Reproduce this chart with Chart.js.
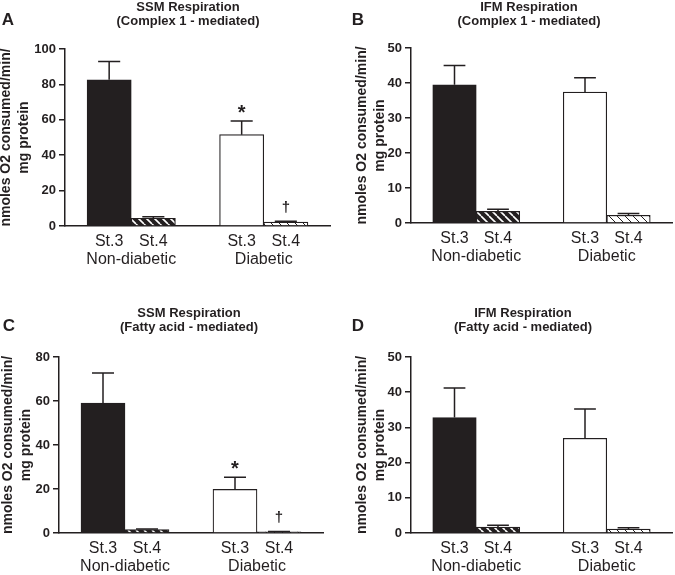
<!DOCTYPE html>
<html>
<head>
<meta charset="utf-8">
<script src="https://cdn.jsdelivr.net/npm/chart.js@4"></script>
<style>
  body { margin: 0; background: #fff; }
  canvas { position: absolute; }
</style>
</head>
<body>
<canvas id="chartA" width="337" height="285" style="left:0;top:0"></canvas>
<canvas id="chartB" width="338" height="285" style="left:337px;top:0"></canvas>
<canvas id="chartC" width="337" height="269" style="left:0;top:306px"></canvas>
<canvas id="chartD" width="338" height="269" style="left:337px;top:306px"></canvas>
<script>
const groups = ['Non-diabetic', 'Diabetic'];
const states = ['St.3', 'St.4'];
const yTitle = ['nmoles O2 consumed/min/', 'mg protein'];

// order: Non-diabetic St.3, St.4, Diabetic St.3, St.4
const ssmComplex1 = [82.6, 4.4, 51.6, 2.2];
const ssmComplex1Err = [10.4, 0.8, 7.7, 0.5];
const ifmComplex1 = [39.5, 3.3, 37.4, 2.2];
const ifmComplex1Err = [5.5, 0.6, 4.1, 0.5];
const ssmFatty = [59.1, 1.5, 19.8, 0.5];
const ssmFattyErr = [13.6, 0.3, 5.5, 0.2];
const ifmFatty = [32.8, 1.7, 26.9, 1.1];
const ifmFattyErr = [8.4, 0.5, 8.3, 0.4];
const sigMarks = ['', '', '*', '†'];
const noMarks = ['', '', '', ''];

const ink = '#231f20';
Chart.defaults.font.family = '"Liberation Sans", Arial, sans-serif';
Chart.defaults.color = ink;

// slot on the x axis: one empty slot between the two groups
const slot = i => Math.floor(i / states.length) * (states.length + 1) + (i % states.length) + 1;
const slotCount = groups.length * (states.length + 1);

function hatch(ctx, bg, fg, lw) {
  const c = document.createElement('canvas');
  c.width = c.height = 8;
  const g = c.getContext('2d');
  g.fillStyle = bg;
  g.fillRect(0, 0, 8, 8);
  g.strokeStyle = fg;
  g.lineWidth = lw;
  g.beginPath();
  for (const o of [-8, 0, 8]) { g.moveTo(o, 0); g.lineTo(o + 8, 8); }
  g.stroke();
  return ctx.createPattern(c, 'repeat');
}

// error bars, significance marks, panel letter and title
const panelDecor = {
  id: 'panelDecor',
  afterDatasetsDraw(chart, args, opts) {
    const ctx = chart.ctx;
    const ds = chart.data.datasets[0];
    const y = chart.scales.y;
    ctx.save();
    ctx.strokeStyle = ink;
    ctx.fillStyle = ink;
    ctx.lineWidth = 1.5;
    chart.getDatasetMeta(0).data.forEach((bar, i) => {
      const top = y.getPixelForValue(ds.data[i].y + ds.errors[i]);
      const half = bar.width / 4;
      ctx.beginPath();
      ctx.moveTo(bar.x, bar.y);
      ctx.lineTo(bar.x, top);
      ctx.moveTo(bar.x - half, top);
      ctx.lineTo(bar.x + half, top);
      ctx.stroke();
      const m = ds.marks[i];
      ctx.textAlign = 'center';
      ctx.textBaseline = 'alphabetic';
      if (m === '*') {
        ctx.font = 'bold 20px "Liberation Sans"';
        ctx.fillText(m, bar.x, top - 2);
      } else if (m) {
        ctx.font = 'bold 15px "Liberation Sans"';
        ctx.fillText(m, bar.x, top - 9);
      }
    });
    ctx.textAlign = 'center';
    ctx.textBaseline = 'middle';
    ctx.font = 'bold 13px "Liberation Sans"';
    ctx.fillText(opts.title[0], opts.titleX, 7);
    ctx.fillText(opts.title[1], opts.titleX, 21);
    ctx.font = 'bold 17px "Liberation Sans"';
    ctx.fillText(opts.letter, opts.letterX, 20);
    ctx.restore();
  }
};

function makeChart(id, cfg) {
  const canvas = document.getElementById(id);
  const ctx = canvas.getContext('2d');
  const fills = [ink, hatch(ctx, ink, '#fff', 1.6), '#fff', hatch(ctx, '#fff', ink, 1)];
  return new Chart(canvas, {
    type: 'bar',
    data: {
      datasets: [{
        data: cfg.values.map((v, i) => ({ x: slot(i), y: v })),
        errors: cfg.errors,
        marks: cfg.marks,
        backgroundColor: fills,
        borderColor: ink,
        borderWidth: 1.2,
        barPercentage: 1,
        categoryPercentage: 1
      }]
    },
    plugins: [panelDecor],
    options: {
      responsive: false,
      animation: false,
      layout: { padding: cfg.padding },
      plugins: {
        legend: { display: false },
        tooltip: { enabled: false },
        panelDecor: { title: cfg.title, titleX: cfg.titleX, letter: cfg.letter, letterX: cfg.letterX }
      },
      scales: {
        x: {
          type: 'linear', min: 0, max: slotCount, offset: false,
          grid: { display: false, drawTicks: false, tickLength: 0 },
          border: { color: ink, width: 1.5 },
          afterBuildTicks: s => { s.ticks = cfg.values.map((v, i) => ({ value: slot(i) })); },
          afterFit: s => { s.height = 22; },
          ticks: {
            autoSkip: false, maxRotation: 0, padding: 6, color: ink, font: { size: 16 },
            callback: v => states[(v - 1) % (states.length + 1)]
          }
        },
        x2: {
          type: 'linear', position: 'bottom', weight: 1, min: 0, max: slotCount, offset: false,
          grid: { display: false, drawTicks: false, tickLength: 0 },
          border: { display: false },
          afterBuildTicks: s => { s.ticks = groups.map((g, i) => ({ value: i * (states.length + 1) + 1.5 })); },
          afterFit: s => { s.height = 20; },
          ticks: {
            autoSkip: false, maxRotation: 0, padding: 2, color: ink, font: { size: 16 },
            callback: v => groups[Math.floor(v / (states.length + 1))]
          }
        },
        y: {
          min: 0, max: cfg.yMax,
          ticks: { stepSize: cfg.yStep, padding: 3, color: ink, font: { size: 13, weight: 'bold' } },
          grid: { drawOnChartArea: false, tickLength: 6, tickColor: ink, lineWidth: 1.5 },
          border: { color: ink, width: 1.5 },
          title: {
            display: true, text: yTitle, color: ink,
            font: { size: 14, weight: 'bold', lineHeight: 1.32 },
            padding: { top: -3.5, bottom: 0 }
          },
          afterFit: s => { s.width = cfg.yWidth; }
        }
      }
    }
  });
}

makeChart('chartA', {
  values: ssmComplex1, errors: ssmComplex1Err, marks: sigMarks,
  title: ['SSM Respiration', '(Complex 1 - mediated)'], titleX: 188, letter: 'A', letterX: 8,
  yMax: 100, yStep: 20, yWidth: 65,
  padding: { top: 49, left: 0, right: 7, bottom: 17 }
});
makeChart('chartB', {
  values: ifmComplex1, errors: ifmComplex1Err, marks: noMarks,
  title: ['IFM Respiration', '(Complex 1 - mediated)'], titleX: 192, letter: 'B', letterX: 21,
  yMax: 50, yStep: 10, yWidth: 55,
  padding: { top: 48, left: 19, right: 3, bottom: 20 }
});
makeChart('chartC', {
  values: ssmFatty, errors: ssmFattyErr, marks: sigMarks,
  title: ['SSM Respiration', '(Fatty acid - mediated)'], titleX: 189, letter: 'C', letterX: 9,
  yMax: 80, yStep: 20, yWidth: 57,
  padding: { top: 51, left: 2, right: 14, bottom: 0 }
});
makeChart('chartD', {
  values: ifmFatty, errors: ifmFattyErr, marks: noMarks,
  title: ['IFM Respiration', '(Fatty acid - mediated)'], titleX: 186, letter: 'D', letterX: 21,
  yMax: 50, yStep: 10, yWidth: 55,
  padding: { top: 51, left: 19, right: 3, bottom: 0 }
});
</script>
</body>
</html>
